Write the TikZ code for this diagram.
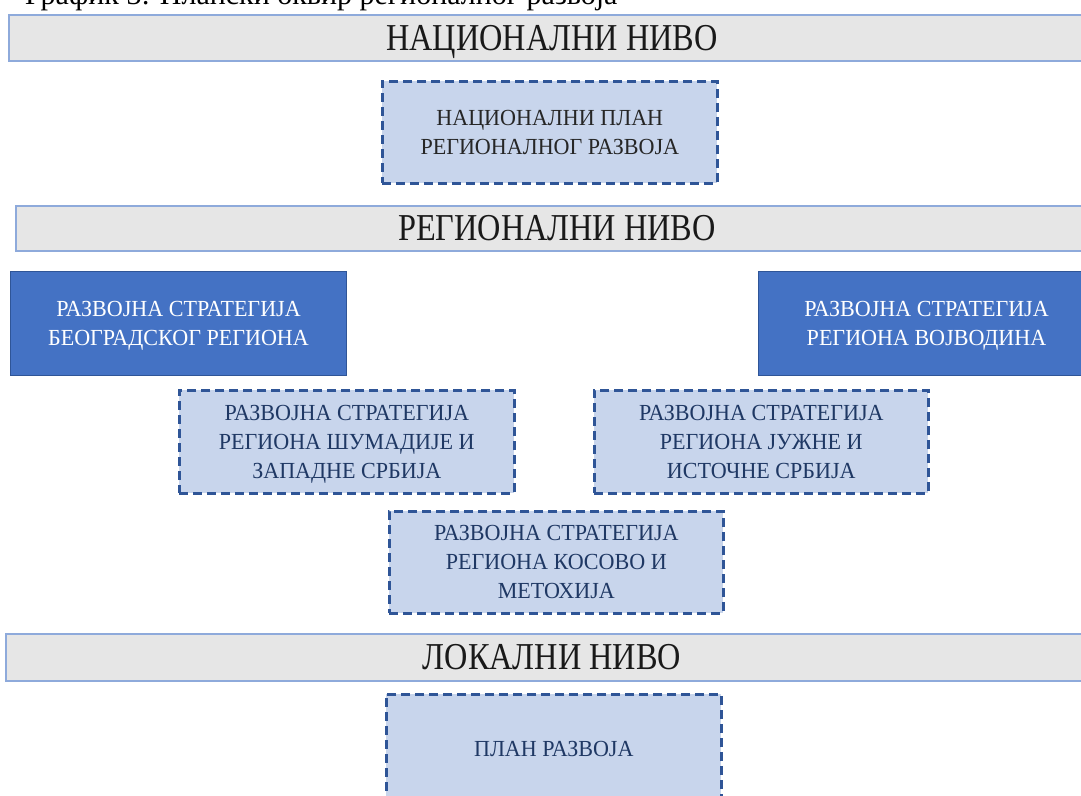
\documentclass[tikz,border=0pt]{standalone}
\usepackage{fontspec}
\setmainfont{Liberation Serif}
\newfontfamily\condfont[FakeStretch=0.85]{Liberation Serif}
\newfontfamily\boxfont[FakeStretch=0.96]{Liberation Serif}
\definecolor{barfill}{HTML}{E6E6E6}
\definecolor{barline}{HTML}{8EAADB}
\definecolor{lightbox}{HTML}{C8D5EC}
\definecolor{dashline}{HTML}{2F5597}
\definecolor{darkbox}{HTML}{4472C4}
\definecolor{darkline}{HTML}{2F5597}
\definecolor{navytext}{HTML}{1F3864}
\tikzset{
  levelbar/.style={draw=barline, fill=barfill, line width=1.6pt, inner sep=0pt, anchor=north west},
  leveltext/.style={anchor=base, inner sep=0pt, text=black!90, font=\condfont\fontsize{38}{40}\selectfont},
  planbox/.style={draw=dashline, fill=lightbox, line width=2.6pt, dash pattern=on 9pt off 5pt,
    inner xsep=0pt, inner ysep=0pt, anchor=north west, align=center, text=navytext,
    font=\boxfont\fontsize{23}{29}\selectfont, text depth=0pt},
  stratbox/.style={draw=darkline, fill=darkbox, line width=1pt, inner sep=0pt, anchor=north west,
    align=center, text=white, font=\boxfont\fontsize{23}{29}\selectfont, text depth=0pt},
}
\begin{document}
\begin{tikzpicture}[x=1pt,y=-1pt]
\useasboundingbox (0,0) rectangle (1081,795);
\clip (0,0) rectangle (1081,795);
% caption (cut off at the top)
\node[anchor=base west, inner sep=0pt, font=\fontsize{30}{32}\selectfont] (caption) at (25,5) {График 3: Плански оквир регионалног развоја};
% national level
\node[levelbar, minimum width=1090pt, minimum height=46pt] (natbar) at (8,14) {};
\node[leveltext] (natlabel) at (552,50) {НАЦИОНАЛНИ НИВО};
\node[planbox, minimum width=335pt, minimum height=102pt, text=black!85] (natplan) at (381,80) {НАЦИОНАЛНИ ПЛАН\\РЕГИОНАЛНОГ РАЗВОЈА};
% regional level
\node[levelbar, minimum width=1080pt, minimum height=45pt] (regbar) at (15,205) {};
\node[leveltext] (reglabel) at (557,240) {РЕГИОНАЛНИ НИВО};
\node[stratbox, minimum width=336pt, minimum height=104pt] (bgd) at (10,271) {РАЗВОЈНА СТРАТЕГИЈА\\БЕОГРАДСКОГ РЕГИОНА};
\node[stratbox, minimum width=336pt, minimum height=104pt] (vojv) at (758,271) {РАЗВОЈНА СТРАТЕГИЈА\\РЕГИОНА ВОЈВОДИНА};
\node[planbox, minimum width=335pt, minimum height=103pt] (sumad) at (178,389) {РАЗВОЈНА СТРАТЕГИЈА\\РЕГИОНА ШУМАДИЈЕ И\\ЗАПАДНЕ СРБИЈА};
\node[planbox, minimum width=334pt, minimum height=103pt] (juzna) at (593,389) {РАЗВОЈНА СТРАТЕГИЈА\\РЕГИОНА ЈУЖНЕ И\\ИСТОЧНЕ СРБИЈА};
\node[planbox, minimum width=334pt, minimum height=102pt] (kosovo) at (388,510) {РАЗВОЈНА СТРАТЕГИЈА\\РЕГИОНА КОСОВО И\\МЕТОХИЈА};
% local level
\node[levelbar, minimum width=1090pt, minimum height=47pt] (locbar) at (5,633) {};
\node[leveltext] (loclabel) at (552,669) {ЛОКАЛНИ НИВО};
\node[planbox, minimum width=335pt, minimum height=110pt] (locplan) at (385,693) {ПЛАН РАЗВОЈА};
\end{tikzpicture}
\end{document}
